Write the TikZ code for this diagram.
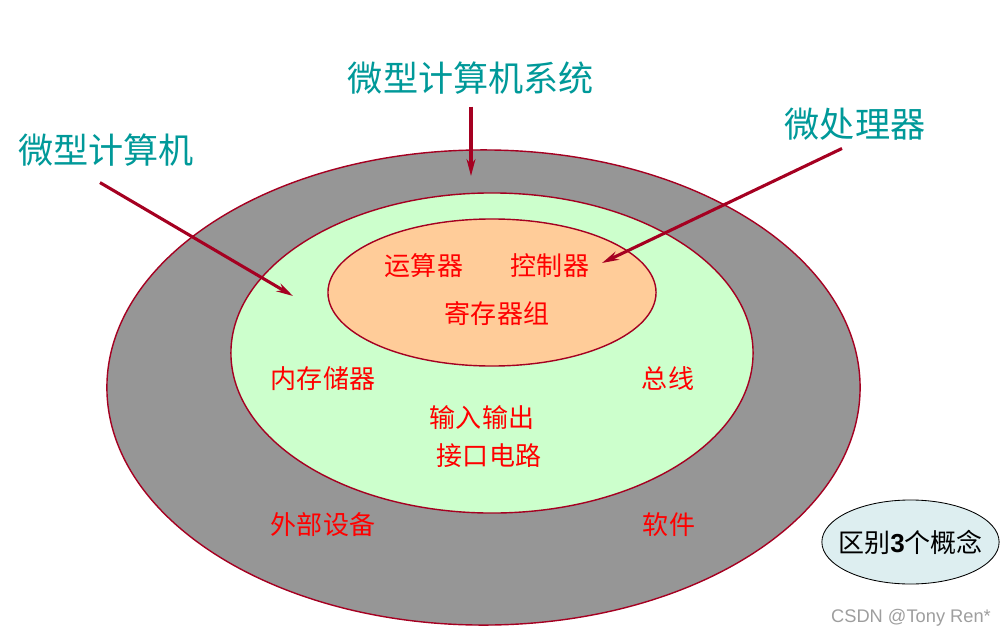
\documentclass[tikz,border=0pt]{standalone}
\usepackage{fontspec}
\setmainfont{Liberation Sans}
\newfontfamily\cjk{Noto Sans CJK SC}
\usetikzlibrary{shapes.geometric,arrows.meta}

\definecolor{rim}{HTML}{A50021}
\definecolor{titleteal}{HTML}{009999}
\definecolor{ringgray}{HTML}{969696}
\definecolor{ringgreen}{HTML}{CCFFCC}
\definecolor{ringorange}{HTML}{FFCC99}
\definecolor{notefill}{HTML}{DDEEF0}

\tikzset{
  ring/.style={ellipse,draw=rim,line width=1pt,inner sep=0pt},
  title/.style={text=titleteal,font=\cjk\fontsize{25}{30}\selectfont,inner sep=0pt},
  part/.style={text=red,font=\cjk\fontsize{18.5}{22}\selectfont,inner sep=0pt},
  arr/.style={draw=rim,line width=2.2pt,-{Stealth[length=0.42cm,width=0.22cm]}}
}

\begin{document}
\begin{tikzpicture}[x=0.025cm,y=-0.025cm]
    \useasboundingbox (0,0) rectangle (1008,638);

    % Rings
    \node[ring,fill=ringgray,minimum width=18.825cm,minimum height=11.875cm] (sysring) at (483.5,387.5) {};
    \node[ring,fill=ringgreen,minimum width=13.05cm,minimum height=8cm] (mcring) at (492,353) {};
    \node[ring,fill=ringorange,minimum width=8.2cm,minimum height=3.675cm] (cpuring) at (492,292.5) {};

    % Parts
    \node[part] (alu) at (424,266) {运算器};
    \node[part] (cu) at (550,266) {控制器};
    \node[part] (regs) at (497,314) {寄存器组};
    \node[part] (mem) at (323,379) {内存储器};
    \node[part] (bus) at (668,379) {总线};
    \node[part] (io) at (482,418) {输入输出};
    \node[part] (ioc) at (489,456) {接口电路};
    \node[part] (dev) at (323,525) {外部设备};
    \node[part] (soft) at (669,525) {软件};

    % Titles
    \node[title] (sys) at (471,78) {微型计算机系统};
    \node[title] (mc) at (106,150) {微型计算机};
    \node[title] (mp) at (855,124) {微处理器};

    % Arrows
    \coordinate (sysTip) at (471,176);
    \coordinate (mcTip) at (293,296);
    \coordinate (mpTip) at (602,263);
    \draw[arr] ([shift={(0,12)}]sys.south) -- (sysTip);
    \draw[arr] ([shift={(-6,16)}]mc.south) -- (mcTip);
    \draw[arr] ([shift={(-13,8)}]mp.south) -- (mpTip);

    % Note
    \node[ellipse,draw=black,line width=0.6pt,fill=notefill,inner xsep=-0.24cm,inner ysep=0pt,
          minimum width=4.425cm,minimum height=2.1cm,
          font=\fontsize{18.5}{22}\selectfont] (note) at (910.5,542)
          {{\cjk 区别}\textbf{3}{\cjk 个概念}};

    % Watermark
    \node[text=black!38,font=\fontsize{13}{15}\selectfont,inner sep=0pt] (mark) at (911,618) {CSDN @Tony Ren*};
\end{tikzpicture}
\end{document}
